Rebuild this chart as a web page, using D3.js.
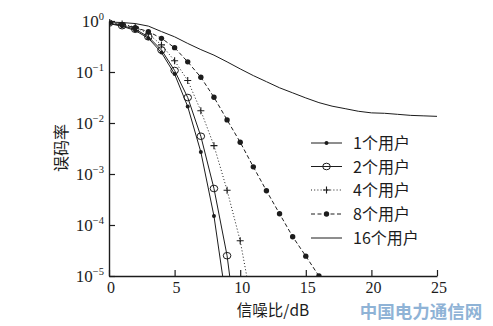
<!DOCTYPE html>
<html>
<head>
<meta charset="utf-8">
<script src="https://cdn.jsdelivr.net/npm/d3@7/dist/d3.min.js"></script>
<style>
  html, body { margin: 0; padding: 0; background: #fff; }
  svg { display: block; }
</style>
</head>
<body>
<svg id="chart" width="493" height="326"></svg>
<script>
// ---- data ----
const snr = [0,1,2,3,4,5,6,7,8,9,10,11,12,13,14,15,16,17,18,19,20,21,22,23,24,25];
const ber1  = [0.89, 0.79, 0.65, 0.46, 0.24, 0.091, 0.021, 2.7e-3, 1.5e-4, 2.5e-6];
const ber2  = [0.91, 0.81, 0.69, 0.49, 0.27, 0.107, 0.0316, 5.5e-3, 5.2e-4, 2.5e-5, 2.5e-7];
const ber4  = [0.93, 0.87, 0.76, 0.56, 0.34, 0.166, 0.068, 0.0174, 3.6e-3, 4.8e-4, 4.9e-5, 2.0e-6];
const ber8  = [0.91, 0.85, 0.74, 0.62, 0.457, 0.30, 0.158, 0.079, 0.032, 0.0115, 4.2e-3, 1.38e-3, 4.7e-4, 1.66e-4, 5.9e-5, 2.45e-5, 1.0e-5];
const ber16 = [0.955, 0.933, 0.891, 0.794, 0.62, 0.49, 0.363, 0.275, 0.214, 0.158, 0.115, 0.085, 0.0646, 0.049, 0.039, 0.031, 0.0251, 0.0214, 0.0191, 0.017, 0.0158, 0.0155, 0.0148, 0.0141, 0.0138, 0.0135];
const seriesNames = ["1个用户", "2个用户", "4个用户", "8个用户", "16个用户"];
const xTicks = [0, 5, 10, 15, 20, 25];
const yTickExps = [0, -1, -2, -3, -4, -5];
const xLabel = "信噪比/dB";
const yLabel = "误码率";
const watermark = "中国电力通信网";

// ---- layout ----
const svg = d3.select("#chart");
const L = 109, R = 437, T = 21, B = 276;
const x = d3.scaleLinear().domain([0, 25]).range([L, R]);
const y = d3.scaleLog().domain([1e-5, 1]).range([B, T]);
const ink = "#1c1c1c";
const serif = "'Liberation Serif','DejaVu Serif',serif";
const cjk = "'Noto Sans CJK SC','Noto Sans',sans-serif";

const series = [
  { name: seriesNames[0], vals: ber1,  dash: null,    marker: "dot" },
  { name: seriesNames[1], vals: ber2,  dash: null,    marker: "circle" },
  { name: seriesNames[2], vals: ber4,  dash: "1,2.2", marker: "plus" },
  { name: seriesNames[3], vals: ber8,  dash: "4,2.5", marker: "bigdot" },
  { name: seriesNames[4], vals: ber16, dash: null,    marker: null }
];

svg.append("defs").append("clipPath").attr("id", "plotclip")
  .append("rect").attr("x", L).attr("y", T - 4).attr("width", R - L + 2).attr("height", B - T + 4);

const plot = svg.append("g").attr("clip-path", "url(#plotclip)");
const line = d3.line().x(d => x(d[0])).y(d => y(d[1]));

function drawMarker(g, type, cx, cy) {
  if (type === "dot") {
    g.append("circle").attr("cx", cx).attr("cy", cy).attr("r", 2).attr("fill", ink);
  } else if (type === "bigdot") {
    g.append("circle").attr("cx", cx).attr("cy", cy).attr("r", 2.7).attr("fill", ink);
  } else if (type === "circle") {
    g.append("ellipse").attr("cx", cx).attr("cy", cy).attr("rx", 3.8).attr("ry", 3.3)
      .attr("fill", "none").attr("stroke", ink).attr("stroke-width", 1);
  } else if (type === "plus") {
    g.append("path").attr("d", `M${cx-3.5},${cy}H${cx+3.5}M${cx},${cy-3.5}V${cy+3.5}`)
      .attr("stroke", ink).attr("stroke-width", 1.1).attr("fill", "none");
  }
}

series.forEach(s => {
  const pts = s.vals.map((v, i) => [snr[i], v]);
  plot.append("path").attr("d", line(pts))
    .attr("fill", "none").attr("stroke", ink).attr("stroke-width", 1)
    .attr("stroke-dasharray", s.dash);
  if (s.marker) {
    const mg = plot.append("g");
    pts.filter(p => p[1] >= 0.99e-5).forEach(p => drawMarker(mg, s.marker, x(p[0]), y(p[1])));
  }
});

// ---- axes ----
const xAxis = d3.axisBottom(x).tickValues(xTicks).tickSizeInner(-6).tickSizeOuter(0).tickPadding(0);
const gx = svg.append("g").attr("transform", `translate(0,${B})`).call(xAxis);
gx.select(".domain").attr("stroke", ink).attr("stroke-width", 1.4);
gx.selectAll(".tick line").attr("stroke", ink).attr("stroke-width", 1.2);
gx.selectAll(".tick text").attr("font-family", serif).attr("font-size", 16)
  .attr("fill", ink).attr("dy", null).attr("y", 17).attr("dx", 1.5);

const yAxis = d3.axisLeft(y).tickValues(yTickExps.map(e => Math.pow(10, e)))
  .tickSizeInner(-6).tickSizeOuter(0).tickPadding(5);
const gy = svg.append("g").attr("transform", `translate(${L},0)`).call(yAxis);
gy.select(".domain").attr("stroke", ink).attr("stroke-width", 1.4);
gy.selectAll(".tick line").attr("stroke", ink).attr("stroke-width", 1.2);
gy.selectAll(".tick text").each(function(d) {
  const e = Math.round(Math.log10(d));
  const t = d3.select(this);
  t.text(null).attr("font-family", serif).attr("font-size", 17).attr("fill", ink)
    .attr("dy", "0.34em").attr("x", -5);
  t.append("tspan").text("10");
  t.append("tspan").attr("font-size", 10.5).attr("dy", -7)
    .text(e === 0 ? "0" : "\u2212" + Math.abs(e));
});
svg.selectAll(".tick text").attr("font-family", serif);

// ---- axis titles ----
svg.append("text").attr("x", (L + R) / 2).attr("y", 316).attr("text-anchor", "middle")
  .attr("font-family", cjk).attr("font-size", 15.5).attr("fill", ink).text(xLabel);
svg.append("text").attr("transform", `translate(67,148) rotate(-90)`).attr("text-anchor", "middle")
  .attr("font-family", cjk).attr("font-size", 16).attr("fill", ink).text(yLabel);

// ---- legend ----
const legY = [143, 166.5, 190, 214, 238];
const lg = svg.append("g");
series.forEach((s, i) => {
  const yy = legY[i];
  lg.append("line").attr("x1", 311).attr("x2", 342).attr("y1", yy).attr("y2", yy)
    .attr("stroke", ink).attr("stroke-width", 1).attr("stroke-dasharray", s.dash);
  if (s.marker) drawMarker(lg, s.marker, 326.5, yy);
  lg.append("text").attr("x", 353).attr("y", yy + 6).attr("font-family", cjk)
    .attr("font-size", 16).attr("fill", ink).text(s.name);
});

// ---- watermark ----
svg.append("text").attr("x", 421).attr("y", 318).attr("text-anchor", "middle")
  .attr("font-family", cjk).attr("font-weight", "bold").attr("font-size", 17.5)
  .attr("fill", "#8fb3d6").text(watermark);
</script>
</body>
</html>
